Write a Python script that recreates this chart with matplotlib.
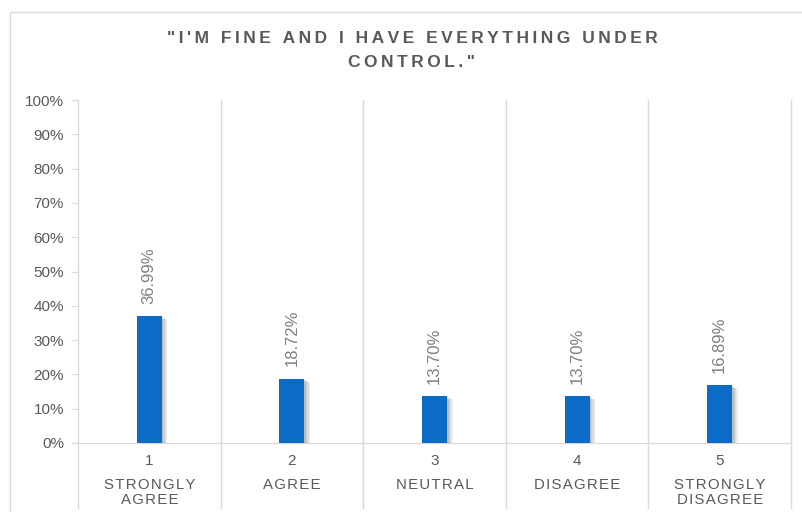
import matplotlib.pyplot as plt
import matplotlib.patheffects as pe
from matplotlib.patches import Rectangle
import numpy as np

plt.rcParams['font.family'] = ['Liberation Sans', 'DejaVu Sans']

# data
numbers = ['1', '2', '3', '4', '5']
answers = ['STRONGLY\nAGREE', 'AGREE', 'NEUTRAL', 'DISAGREE', 'STRONGLY\nDISAGREE']
shares = [36.99, 18.72, 13.70, 13.70, 16.89]
title = '"I\'M FINE AND I HAVE EVERYTHING UNDER\nCONTROL."'

bar_color = '#0B6BC7'
grid_color = '#D9D9D9'
text_color = '#595959'


def spaced(s, gap='\u2009'):
    # fake letter spacing with narrow spaces
    return '\n'.join(gap.join(line) for line in s.split('\n'))


fig = plt.figure(figsize=(8.03, 5.12), dpi=100)
ax = fig.add_axes([78 / 803, 1 - 443 / 512, (791 - 78) / 803, (443 - 100) / 512])

# outer frame
fig.add_artist(Rectangle((10 / 803, -0.2), 1.2, 1.2 - 12 / 512, transform=fig.transFigure,
                         fill=False, edgecolor=grid_color, lw=1))

x = np.arange(len(shares))
bars = ax.bar(x, shares, width=0.175, color=bar_color, zorder=3)
shadow = [pe.SimplePatchShadow(offset=(d, -d * 0.6), shadow_rgbFace='#000000', alpha=0.07)
          for d in (4, 3, 2, 1.2)]
for b in bars:
    b.set_path_effects(shadow + [pe.Normal()])

for xi, v in zip(x, shares):
    ax.annotate(f'{v:.2f}%', (xi, v), xytext=(0, 9), textcoords='offset points',
                rotation=90, ha='center', va='bottom', fontsize=12, color='#7F7F7F')

ax.set_xlim(-0.5, len(shares) - 0.5)
ax.set_ylim(0, 100)
ax.set_yticks(np.arange(0, 101, 10))
ax.set_yticklabels([f'{t}%' for t in range(0, 101, 10)], fontsize=11, color=text_color)
ax.tick_params(axis='y', length=5, color=grid_color, pad=5)

ax.set_xticks(x)
ax.set_xticklabels(numbers, fontsize=11, color=text_color)
ax.tick_params(axis='x', length=0, pad=8)

trans = ax.get_xaxis_transform()
for xi, a in zip(x, answers):
    ax.text(xi, -0.102, spaced(a, '\u200a'), transform=trans, ha='center', va='top',
            fontsize=10.8, color=text_color, linespacing=1.05)

# category separators running below the axis
for b in np.arange(-0.5, len(shares), 1.0):
    ax.plot([b, b], [-0.19, 1], transform=trans, color=grid_color, lw=1, clip_on=False, zorder=1)

for s in ['top', 'right', 'left']:
    ax.spines[s].set_visible(False)
ax.spines['bottom'].set_color(grid_color)

fig.text(412 / 803, 1 - 50.5 / 512, spaced(title), ha='center', va='center',
         fontsize=12.5, fontweight='bold', color=text_color, linespacing=1.72)

plt.savefig('out.png', dpi=100)
